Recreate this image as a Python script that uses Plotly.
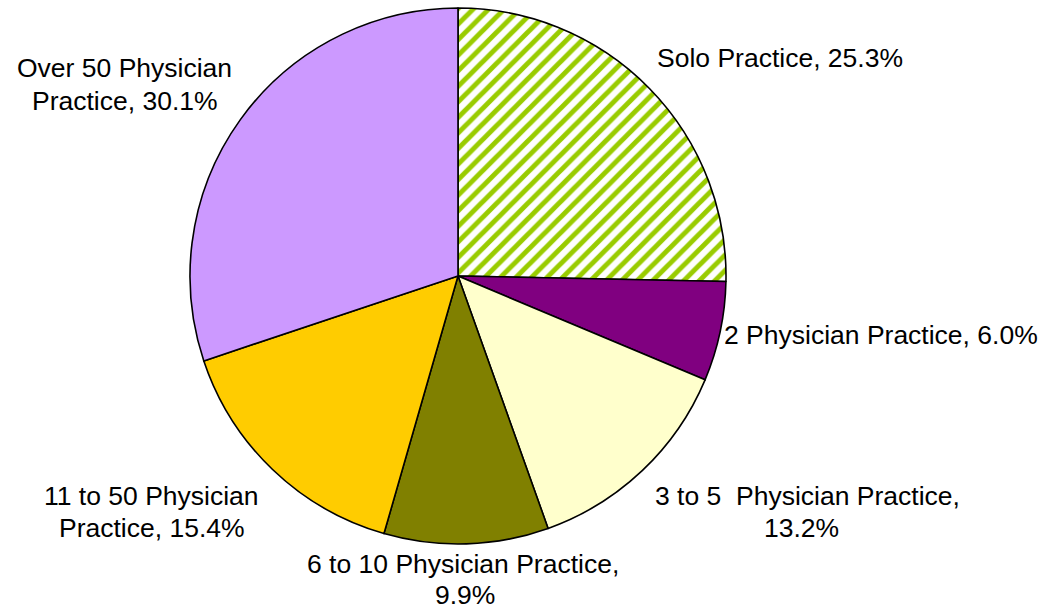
import plotly.graph_objects as go

# Share of physicians by practice size
labels = [
    "Solo Practice",
    "2 Physician Practice",
    "3 to 5  Physician Practice",
    "6 to 10 Physician Practice",
    "11 to 50 Physician Practice",
    "Over 50 Physician Practice",
]
values = [25.3, 6.0, 13.2, 9.9, 15.4, 30.1]
colors = ["#99CC00", "#800080", "#FFFFCC", "#808000", "#FFCC00", "#CC99FF"]

# Where each label text wraps onto a second line (None keeps one line)
wrap_after = [None, None, "Practice,", "Practice,", "Physician", "Physician"]

W, H = 1053, 611
FONT = "Liberation Sans, Arial, sans-serif"
FS = 26.5

# Pie geometry in pixels
cx, cy, r = 458, 276, 268

fig = go.Figure(
    go.Pie(
        labels=labels,
        values=values,
        sort=False,
        direction="clockwise",
        rotation=0,
        textinfo="none",
        hoverinfo="label+percent",
        showlegend=False,
        marker=dict(
            colors=colors,
            line=dict(color="black", width=1.6),
            pattern=dict(
                shape=["/", "", "", "", "", ""],
                fillmode="replace",
                fgcolor=["#99CC00"] * 6,
                bgcolor=["white"] * 6,
                size=11,
                solidity=0.45,
            ),
        ),
        domain=dict(
            x=[(cx - r) / W, (cx + r) / W],
            y=[1 - (cy + r) / H, 1 - (cy - r) / H],
        ),
    )
)

# Label anchor: (x centre, baseline) of each text line, in pixels
line_pos = [
    [(780, 68)],
    [(881, 345)],
    [(807, 506), (801, 538)],
    [(463, 574), (465, 605)],
    [(151, 506), (152, 538)],
    [(124, 78), (125, 111)],
]

annotations = []
for lab, val, brk, pos in zip(labels, values, wrap_after, line_pos):
    full = f"{lab}, {val:.1f}%"
    if brk is None:
        lines = [full]
    else:
        i = full.index(brk) + len(brk)
        lines = [full[:i].rstrip(), full[i:].strip()]
    for txt, (px, base) in zip(lines, pos):
        annotations.append(
            dict(
                x=px / W,
                y=1 - (base - 0.36 * FS) / H,
                xref="paper",
                yref="paper",
                text=txt,
                showarrow=False,
                xanchor="center",
                yanchor="middle",
                font=dict(family=FONT, size=FS, color="black"),
            )
        )

fig.update_layout(
    width=W,
    height=H,
    margin=dict(l=0, r=0, t=0, b=0),
    paper_bgcolor="white",
    plot_bgcolor="white",
    annotations=annotations,
)

fig.write_html("out.html")
